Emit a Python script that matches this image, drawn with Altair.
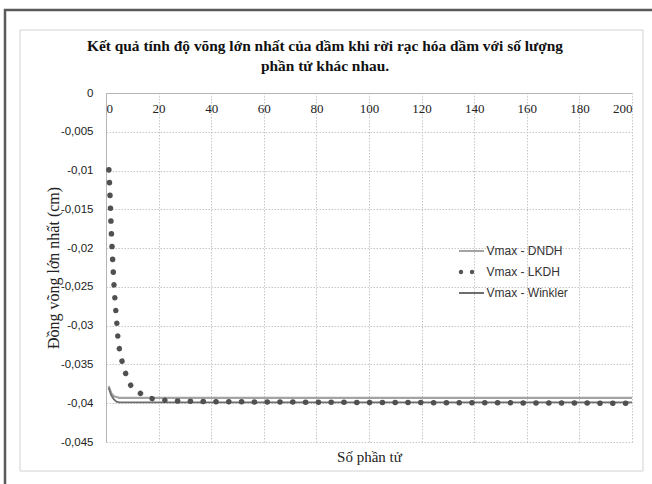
import altair as alt
import pandas as pd

# ---- data ----
SERIES = ["Vmax - DNDH", "Vmax - LKDH", "Vmax - Winkler"]

dndh_n = [1, 2, 3, 4, 5, 6, 8, 10, 20, 50, 100, 150, 200]
dndh_v = [-0.0378, -0.0387, -0.0391, -0.0392, -0.0393, -0.0393, -0.0393,
          -0.0393, -0.0393, -0.0393, -0.0393, -0.0393, -0.0393]

wink_n = [1, 2, 3, 4, 5, 6, 8, 10, 20, 50, 100, 150, 200]
wink_v = [-0.0380, -0.0390, -0.0395, -0.0398, -0.0399, -0.0399, -0.0399,
          -0.0399, -0.0399, -0.0399, -0.0399, -0.0399, -0.0399]

lkdh_n = [1.1, 1.5, 2.0, 2.5, 3.0, 3.5, 4.0, 4.5, 5.1, 6.1, 7.5, 9.4, 12.9,
          17.4, 21.9, 26.3, 40, 100, 200]
lkdh_v = [-0.0099, -0.0130, -0.0177, -0.0213, -0.0245, -0.0271, -0.0291,
          -0.0314, -0.0331, -0.0346, -0.0362, -0.0377, -0.0387, -0.0394,
          -0.0396, -0.0397, -0.0398, -0.0399, -0.0400]

X_TICKS = [0, 20, 40, 60, 80, 100, 120, 140, 160, 180, 200]
Y_TICKS = [0, -0.005, -0.01, -0.015, -0.02, -0.025, -0.03, -0.035, -0.04, -0.045]

COLORS = ["#a3a3a3", "#505050", "#6e6e6e"]
LEGEND_SHAPES = [
    "M -1.25,0 L 1.25,0",
    "M -0.93,0 A 0.12,0.12 0 1,1 -1.17,0 A 0.12,0.12 0 1,1 -0.93,0 Z "
    "M 0.17,0 A 0.12,0.12 0 1,1 -0.07,0 A 0.12,0.12 0 1,1 0.17,0 Z",
    "M -1.25,0 L 1.25,0",
]

df = pd.concat([
    pd.DataFrame({"n": dndh_n, "v": dndh_v, "series": SERIES[0]}),
    pd.DataFrame({"n": lkdh_n, "v": lkdh_v, "series": SERIES[1]}),
    pd.DataFrame({"n": wink_n, "v": wink_v, "series": SERIES[2]}),
])

W, H = 526, 349
SERIF = "Liberation Serif"
SANS = "Liberation Sans"

xs = alt.Scale(domain=[0, 200], nice=False, zero=False)
ys = alt.Scale(domain=[-0.045, 0], nice=False, zero=False)

x_axis = alt.Axis(
    orient="top", values=X_TICKS, ticks=False, labelPadding=-22,
    labelFont=SERIF, labelFontSize=13, labelColor="#222", labelOverlap=False,
    domainColor="#b5b5b5", domainWidth=1,
    grid=True, gridColor="#c6c6c6", gridDash=[1.5, 1.5], gridWidth=1,
    title="Số phần tử", titleFont=SERIF, titleFontSize=15,
    titleFontWeight="normal", titleColor="#222", titleY=363,
    titleBaseline="middle",
)
y_axis = alt.Axis(
    values=Y_TICKS, ticks=False, labelPadding=13,
    labelFont=SANS, labelFontSize=11.5, labelColor="#222", labelOverlap=False,
    labelExpr="replace(toString(datum.value), '.', ',')",
    domainColor="#b5b5b5", domainWidth=1,
    grid=True, gridColor="#c6c6c6", gridDash=[1.5, 1.5], gridWidth=1,
    title="Đồng võng lớn nhất (cm)", titleFont=SERIF, titleFontSize=16,
    titleFontWeight="normal", titleColor="#222", titleX=-53,
    titleBaseline="middle",
)

X = alt.X("n:Q", scale=xs, axis=x_axis)
Y = alt.Y("v:Q", scale=ys, axis=y_axis)

one = alt.Data(values=[{}])

outer = alt.Chart(one).mark_rect(
    fill="transparent", stroke="#5a5a5a", strokeWidth=2.5
).encode(x=alt.value(-101), x2=alt.value(570), y=alt.value(-83), y2=alt.value(410))

inner = alt.Chart(one).mark_rect(
    fill="transparent", stroke="#d2d2d2", strokeWidth=1
).encode(x=alt.value(-86), x2=alt.value(537), y=alt.value(-63), y2=alt.value(378))

base = alt.Chart(df)

dndh = base.transform_filter(alt.datum.series == SERIES[0]).mark_line(
    color=COLORS[0], strokeWidth=2.2
).encode(x=X, y=Y, order="n:Q")

wink = base.transform_filter(alt.datum.series == SERIES[2]).mark_line(
    color=COLORS[2], strokeWidth=1.8
).encode(x=X, y=Y, order="n:Q")

lkdh = base.transform_filter(alt.datum.series == SERIES[1]).mark_line(
    color=COLORS[1], strokeWidth=5.5, strokeDash=[0.1, 12.7], strokeCap="round"
).encode(x=X, y=Y, order="n:Q")

leg = alt.Legend(
    orient="none", legendX=354.5, legendY=147, title=None,
    symbolSize=400, symbolStrokeWidth=2, symbolOpacity=1,
    labelFont=SANS, labelFontSize=12, labelColor="#333", labelOffset=4,
    rowPadding=4, padding=0,
)

legend_layer = base.mark_point(opacity=0, filled=False).encode(
    x=X, y=Y,
    shape=alt.Shape("series:N", scale=alt.Scale(domain=SERIES, range=LEGEND_SHAPES), legend=leg),
    color=alt.Color("series:N", scale=alt.Scale(domain=SERIES, range=COLORS), legend=leg),
)

chart = alt.layer(dndh, wink, lkdh, legend_layer, outer, inner).properties(
    width=W, height=H,
    background="white",
    autosize=alt.AutoSizeParams(type="none"),
    padding={"left": 106, "top": 93, "right": 20, "bottom": 42},
    title=alt.TitleParams(
        ["Kết quả tính độ võng lớn nhất của dầm khi rời rạc hóa dầm với số lượng",
         "phần tử khác nhau."],
        font=SERIF, fontSize=15.4, fontWeight="bold", color="#111",
        anchor="middle", frame="group", dx=-44, offset=16, dy=82, lineHeight=20,
    ),
).configure_view(stroke=None)

chart.save("out.html", embed_options={"renderer": "svg", "actions": False})
